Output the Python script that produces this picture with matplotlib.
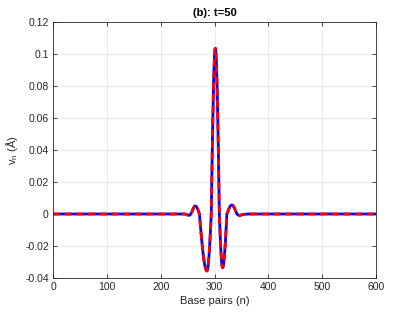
import matplotlib
matplotlib.use("Agg")
import matplotlib.pyplot as plt

plt.rcParams['font.family'] = ['Liberation Sans', 'DejaVu Sans']
plt.rcParams['mathtext.fontset'] = 'custom'
plt.rcParams['mathtext.rm'] = 'Liberation Sans'
plt.rcParams['mathtext.it'] = 'Liberation Sans'

# Base pair index and displacement values
n_pairs = [0, 240, 244, 246, 248, 250, 252, 253, 254, 255, 256, 257, 258, 259, 260,
           261, 262, 263, 264, 265, 266, 267, 268, 269, 270, 271, 272, 273, 274, 275,
           276, 277, 278, 279, 280, 281, 282, 283, 284, 285, 286, 287, 288, 289, 290,
           291, 292, 293, 294, 295, 296, 297, 298, 299, 300, 301, 302, 303, 304, 305,
           306, 307, 308, 309, 310, 311, 312, 313, 314, 315, 316, 317, 318, 319, 320,
           321, 322, 323, 324, 325, 326, 327, 328, 329, 330, 331, 332, 333, 334, 335,
           336, 337, 338, 339, 340, 341, 342, 343, 344, 346, 348, 350, 352, 355, 358,
           362, 600]
v_numeric = [0.0, 0.0, 0.0, -0.0001, -0.0003, -0.0006, -0.0008, -0.0008, -0.0007, -0.0004,
             0.0001, 0.0007, 0.0014, 0.0022, 0.0030, 0.0038, 0.0044, 0.0048, 0.0050, 0.0050,
             0.0047, 0.0043, 0.0037, 0.0029, 0.0020, 0.0010, 0.0, -0.0040, -0.0079, -0.0118,
             -0.0155, -0.0189, -0.0222, -0.0252, -0.0278, -0.0301, -0.0321, -0.0336, -0.0347,
             -0.0354, -0.0356, -0.0349, -0.0329, -0.0296, -0.0252, -0.0198, -0.0136, -0.0069,
             0.0, 0.0217, 0.0424, 0.0611, 0.0773, 0.0900, 0.0989, 0.1034, 0.1034, 0.0989,
             0.0900, 0.0773, 0.0611, 0.0424, 0.0217, 0.0, -0.0087, -0.0168, -0.0238, -0.0291,
             -0.0325, -0.0336, -0.0330, -0.0310, -0.0279, -0.0238, -0.0187, -0.0129, -0.0066,
             0.0, 0.0009, 0.0018, 0.0027, 0.0035, 0.0042, 0.0048, 0.0052, 0.0055, 0.0056,
             0.0056, 0.0054, 0.0050, 0.0044, 0.0037, 0.0029, 0.0021, 0.0013, 0.0006, 0.0,
             -0.0004, -0.0007, -0.0009, -0.0008, -0.0006, -0.0004, -0.0002, -0.0001, 0.0, 0.0]
v_analytic = list(v_numeric)

x_ticks = [0, 100, 200, 300, 400, 500, 600]
y_ticks = [-0.04, -0.02, 0, 0.02, 0.04, 0.06, 0.08, 0.1, 0.12]
y_tick_labels = ['-0.04', '-0.02', '0', '0.02', '0.04', '0.06', '0.08', '0.1', '0.12']

fig = plt.figure(figsize=(4.15, 3.12), dpi=100)
ax = fig.add_axes([53/415, 1-278/312, (376-53)/415, (278-22)/312])

ax.plot(n_pairs, v_numeric, color='#0000ff', lw=2.0, solid_joinstyle='round')
ax.plot(n_pairs, v_analytic, color='#ff0000', lw=2.0, dashes=(2.6, 1.6))

ax.set_xlim(0, 600)
ax.set_ylim(-0.04, 0.12)
ax.set_xticks(x_ticks)
ax.set_xticklabels([str(t) for t in x_ticks])
ax.set_yticks(y_ticks)
ax.set_yticklabels(y_tick_labels)

ax.grid(True, color='#e6e6e6', lw=0.6)
ax.set_axisbelow(True)
ax.tick_params(direction='in', length=3, width=0.6, colors='#262626',
               labelsize=7.5, top=True, right=True, pad=3)
for s in ax.spines.values():
    s.set_color('#262626')
    s.set_linewidth(0.6)

ax.set_xlabel('Base pairs (n)', fontsize=8, color='#262626', labelpad=3)
ax.set_ylabel(r'v$_{\rm n}$ (Å)', fontsize=8, color='#262626', labelpad=4)
ax.set_title('(b): t=50', fontsize=8, fontweight='bold', color='black', pad=4)

fig.savefig('out.png', dpi=100)
